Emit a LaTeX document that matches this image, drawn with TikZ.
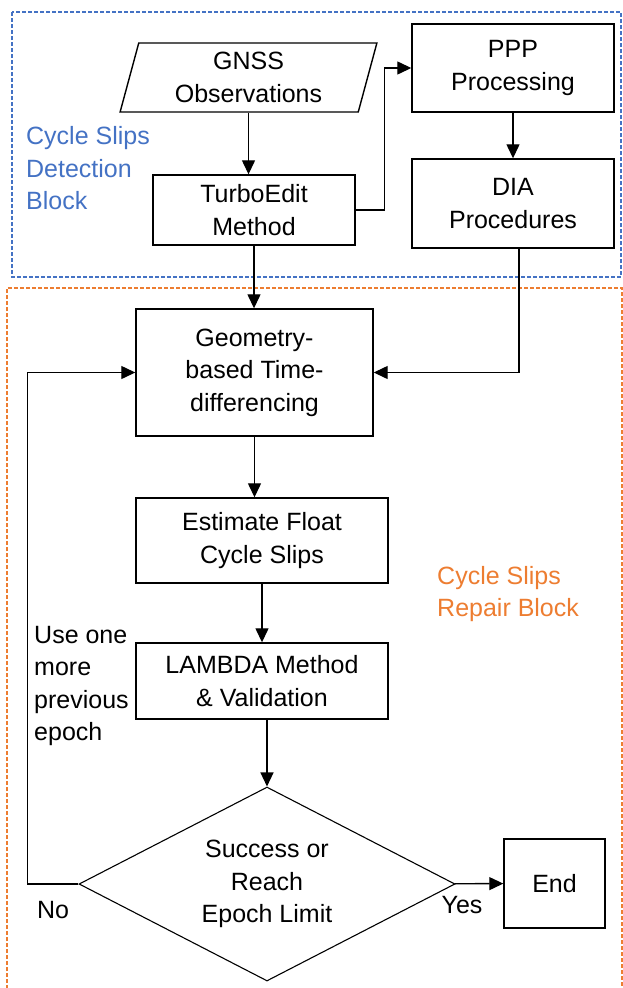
\documentclass[tikz,border=0pt]{standalone}
\usepackage{fontspec}
\setmainfont{Liberation Sans}
\usetikzlibrary{shapes.geometric,arrows.meta}
\definecolor{slipblue}{RGB}{68,114,196}
\definecolor{sliporange}{RGB}{237,125,49}

\begin{document}
\begin{tikzpicture}[x=1pt,y=-1pt,
  font=\fontsize{25}{32.5}\selectfont,
  box/.style={draw,line width=1.4pt,align=center,inner sep=0pt},
  arr/.style={line width=1.3pt,-{Triangle[length=14pt,width=13pt]}},
  lbl/.style={align=left,anchor=west,inner sep=0pt},
  blockline/.style={line width=1.2pt,dash pattern=on 4pt off 2pt}]
\useasboundingbox (0,0) rectangle (623,988);
\draw[blockline,slipblue] (12,12) rectangle (621,277);
\draw[blockline,sliporange] (7,995) -- (7,288) -- (622,288) -- (622,995);
\node[lbl,text=slipblue] (detlbl) at (26,168.5) {Cycle Slips\\Detection\\Block};
\node[lbl,text=sliporange] (replbl) at (437,594) {Cycle Slips\\Repair Block};
\node[box,trapezium,trapezium left angle=76,trapezium right angle=104,trapezium stretches=true,
  minimum width=257pt,minimum height=69pt] (gnss) at (248.5,77.5) {GNSS\\Observations};
\node[box,minimum width=202pt,minimum height=70pt] (turbo) at (254,210) {TurboEdit\\Method};
\node[box,minimum width=202pt,minimum height=88pt] (ppp) at (513,68) {PPP\\Processing};
\node[box,minimum width=202pt,minimum height=89pt] (dia) at (513,203.5) {DIA\\Procedures};
\node[box,minimum width=237pt,minimum height=127pt] (geom) at (254.5,372.5) {Geometry-\\based Time-\\differencing};
\node[box,minimum width=252pt,minimum height=85pt] (est) at (262,540.5) {Estimate Float\\Cycle Slips};
\node[box,minimum width=252pt,minimum height=76pt] (lambda) at (262,681) {LAMBDA Method\\\& Validation};
\node[box,diamond,aspect=1.94,line width=1.1pt,minimum width=376pt,minimum height=194pt] (dec) at (267,884) {Success or\\Reach\\Epoch Limit};
\node[box,minimum width=101pt,minimum height=89pt] (finish) at (554.5,883.5) {End};
\node (yes) at (462,905) {Yes};
\node (no) at (53,910) {No};
\node[lbl] (again) at (34,686) {Use one\\more\\previous\\epoch};
% arrows
\draw[arr] (gnss.south) -- (gnss.south |- turbo.north);
\draw[arr] (turbo.east) -- ++(29,0) |- (ppp.west);
\draw[arr] (ppp) -- (dia);
\draw[arr] (turbo.south) -- (turbo.south |- geom.north);
\draw[arr] ([xshift=6pt]dia.south) |- (geom.east);
\draw[arr] (geom.south) -- (geom.south |- est.north);
\draw[arr] (est) -- (lambda);
\draw[arr] (lambda.south -| dec.north) -- (dec.north);
\draw[arr] (dec) -- (finish);
\draw[arr] (dec.west) -- ++(-51,0) |- (geom.west);
\end{tikzpicture}
\end{document}
